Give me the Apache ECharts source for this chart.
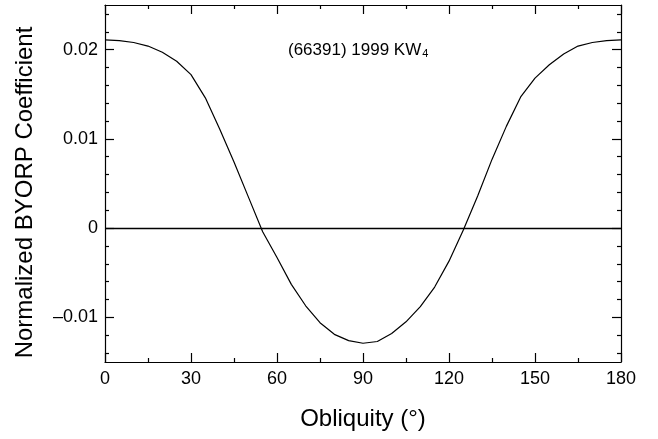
<!DOCTYPE html>
<html>
<head>
<meta charset="utf-8">
<script src="https://cdn.jsdelivr.net/npm/echarts@6/dist/echarts.min.js"></script>
<style>html,body{margin:0;padding:0;background:#fff}#c{width:658px;height:439px}</style>
</head>
<body>
<div id="c"></div>
<script>
const obliquity = [0,5,10,15,20,25,30,35,40,45,50,55,60,65,70,75,80,85,90,95,100,105,110,115,120,125,130,135,140,145,150,155,160,165,170,175,180];
const byorp = [0.0211,0.0210,0.0208,0.0204,0.0197,0.0187,0.0172,0.0146,0.0111,0.0074,0.0035,-0.0004,-0.0033,-0.0063,-0.0087,-0.0106,-0.0119,-0.0126,-0.0129,-0.0127,-0.0118,-0.0105,-0.0088,-0.0066,-0.0037,-0.0002,0.0036,0.0077,0.0114,0.0147,0.0168,0.0183,0.0195,0.0204,0.0208,0.0210,0.0211];
const yMajor = [-0.01,0,0.01,0.02];
const yMinor = [-0.014,-0.012,-0.008,-0.006,-0.004,-0.002,0.002,0.004,0.006,0.008,0.012,0.014,0.016,0.018,0.022,0.024];
const xTitle = 'Obliquity (°)';
const yTitle = 'Normalized BYORP Coefficient';
const note = '(66391) 1999 KW';
const noteSub = '4';

const FONT = '"Liberation Sans", Arial, sans-serif';
const chart = echarts.init(document.getElementById('c'));
const LS = {color:'#000',width:1.2};
const xBase = {type:'value',min:0,max:180,interval:30,
  axisLine:{show:true,onZero:false,lineStyle:LS},
  axisTick:{show:true,inside:true,length:9,lineStyle:LS},
  minorTick:{show:true,splitNumber:2,length:4,lineStyle:LS},
  splitLine:{show:false}};
const yBase = (pos, labels) => ({type:'value',min:-0.015,max:0.025,position:pos,
  axisLine:{show:true,onZero:false,lineStyle:LS},
  axisTick:{show:true,inside:true,length:9,customValues:yMajor,lineStyle:LS},
  axisLabel:{show:labels,customValues:yMajor,color:'#000',fontFamily:FONT,fontSize:18,margin:7,
    formatter:v=>{const s=(Math.round(v*1000)/1000).toString();return s.replace('-','\u2013');}},
  splitLine:{show:false}});
const yMin = (pos) => ({type:'value',min:-0.015,max:0.025,position:pos,
  axisLine:{show:false,onZero:false},axisLabel:{show:false},splitLine:{show:false},
  axisTick:{show:true,inside:true,length:4,customValues:yMinor,lineStyle:LS}});
chart.setOption({
  animation:false,
  grid:{left:105,right:37,top:5,bottom:77},
  xAxis:[
    Object.assign({},xBase,{position:'bottom',name:xTitle,nameLocation:'middle',nameGap:45,
      nameTextStyle:{color:'#000',fontFamily:FONT,fontSize:24},
      axisLabel:{color:'#000',fontFamily:FONT,fontSize:18,margin:8}}),
    Object.assign({},xBase,{position:'top',axisLabel:{show:false}})
  ],
  yAxis:[
    Object.assign(yBase('left',true),{name:yTitle,nameLocation:'middle',nameGap:68,
      nameTextStyle:{color:'#000',fontFamily:FONT,fontSize:24,padding:[0,18,0,0]}}),
    yBase('right',false),
    yMin('left'),
    yMin('right')
  ],
  graphic:[{type:'text',left:288,top:42,
    style:{text:'{m|'+note+'}{s|'+noteSub+'}',fill:'#000',
      rich:{m:{fontFamily:FONT,fontSize:17,lineHeight:20,verticalAlign:'bottom'},
            s:{fontFamily:FONT,fontSize:11,lineHeight:10,verticalAlign:'bottom',padding:[0,0,0,1]}}}}],
  series:[{type:'line',data:obliquity.map((x,i)=>[x,byorp[i]]),symbol:'none',
    lineStyle:{color:'#000',width:1.2},
    markLine:{silent:true,symbol:'none',label:{show:false},
      lineStyle:{color:'#000',width:1.3,type:'solid'},data:[{yAxis:0}]}}]
});
</script>
</body>
</html>
